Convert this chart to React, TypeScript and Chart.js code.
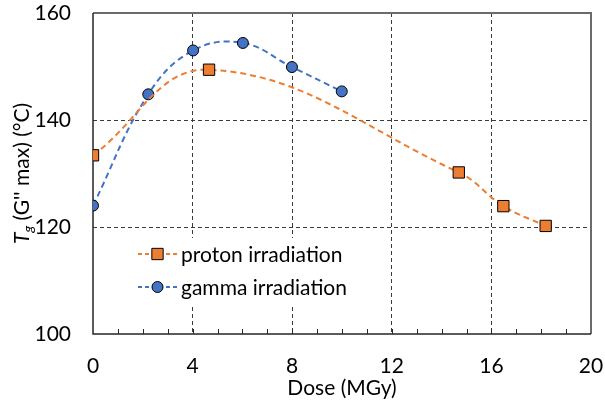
import React, { useEffect, useRef } from "react";
import { Chart, registerables } from "chart.js";

Chart.register(...registerables);

// ---- data ----
const protonDose = [0, 4.66, 14.69, 16.48, 18.18];
const protonTg = [133.4, 149.4, 130.2, 123.9, 120.2];
const gammaDose = [0, 2.22, 4.02, 6.02, 7.99, 9.99];
const gammaTg = [124.0, 144.8, 153.0, 154.4, 149.9, 145.35];
const seriesLabels = ["proton irradiation", "gamma irradiation"];
const xTitle = "Dose (MGy)";
const yTitleMain = "T";
const yTitleSub = "g";
const yTitleRest = " (G'' max) (°C)";

const ORANGE = "#ED7D31";
const BLUE = "#4472C4";
const FAMILY = "Lato, 'Noto Sans', sans-serif";
const FS = 21;

const decorPlugin = {
  id: "decor",
  beforeDatasetsDraw(chart: any) {
    const { ctx, chartArea } = chart;
    const { left, right, top, bottom } = chartArea;
    const xs = chart.scales.x;
    ctx.save();
    // frame
    ctx.setLineDash([]);
    ctx.lineWidth = 2;
    ctx.strokeStyle = "#6b6b6b";
    ctx.beginPath();
    ctx.moveTo(left, top);
    ctx.lineTo(right, top);
    ctx.lineTo(right, bottom);
    ctx.stroke();
    ctx.strokeStyle = "#262626";
    ctx.lineWidth = 1.5;
    ctx.beginPath();
    ctx.moveTo(left, top);
    ctx.lineTo(left, bottom);
    ctx.lineTo(right, bottom);
    ctx.stroke();
    // minor ticks (inside)
    ctx.lineWidth = 1;
    for (let v = 1; v < 20; v++) {
      const px = Math.round(xs.getPixelForValue(v)) + 0.5;
      ctx.beginPath();
      ctx.moveTo(px, bottom);
      ctx.lineTo(px, bottom - 5);
      ctx.stroke();
    }
    // legend
    ctx.fillStyle = "#fff";
    ctx.fillRect(126, 238, 236, 66);
    chart.data.datasets.forEach((ds: any, i: number) => {
      const y = 254 + i * 33;
      ctx.save();
      ctx.strokeStyle = ds.borderColor;
      ctx.lineWidth = 2;
      ctx.setLineDash([4, 3]);
      ctx.beginPath();
      ctx.moveTo(138, y);
      ctx.lineTo(177, y);
      ctx.stroke();
      ctx.restore();
      ctx.fillStyle = ds.backgroundColor;
      ctx.strokeStyle = "#000";
      ctx.lineWidth = 1;
      ctx.setLineDash([]);
      ctx.beginPath();
      if (ds.pointStyle === "rect") {
        const s = ds.pointRadius * Math.SQRT1_2;
        ctx.rect(157.5 - s, y - s, 2 * s, 2 * s);
      } else {
        ctx.arc(157.5, y, ds.pointRadius, 0, Math.PI * 2);
      }
      ctx.fill();
      ctx.stroke();
      ctx.fillStyle = "#000";
      ctx.font = `${FS}px ${FAMILY}`;
      ctx.textBaseline = "middle";
      ctx.textAlign = "left";
      ctx.fillText(ds.label, 181, y + 1);
    });
    // x title
    ctx.fillStyle = "#000";
    ctx.font = `${FS}px ${FAMILY}`;
    ctx.textAlign = "center";
    ctx.textBaseline = "middle";
    ctx.fillText(xTitle, (left + right) / 2, 388);
    // y title (rotated, with italic subscript)
    ctx.save();
    ctx.translate(22, (top + bottom) / 2);
    ctx.rotate(-Math.PI / 2);
    const fMain = `italic ${FS}px ${FAMILY}`;
    const fSub = `italic ${Math.round(FS * 0.65)}px ${FAMILY}`;
    const fRest = `${FS}px ${FAMILY}`;
    ctx.font = fMain;
    const wT = ctx.measureText(yTitleMain).width;
    ctx.font = fSub;
    const wG = ctx.measureText(yTitleSub).width;
    ctx.font = fRest;
    const wR = ctx.measureText(yTitleRest).width;
    let x0 = -(wT + wG + wR) / 2;
    ctx.textAlign = "left";
    ctx.textBaseline = "alphabetic";
    const base = 7;
    ctx.font = fMain;
    ctx.fillText(yTitleMain, x0, base);
    x0 += wT;
    ctx.font = fSub;
    ctx.fillText(yTitleSub, x0, base + 4);
    x0 += wG;
    ctx.font = fRest;
    ctx.fillText(yTitleRest, x0, base);
    ctx.restore();
    ctx.restore();
  },
};

export default function App() {
  const ref = useRef<HTMLCanvasElement>(null);
  useEffect(() => {
    const canvas = ref.current!;
    const gridColor = (c: any) =>
      c.tick && (c.tick.value === c.scale.min || c.tick.value === c.scale.max)
        ? "rgba(0,0,0,0)"
        : "#3a3a3a";
    const chart = new Chart(canvas, {
      type: "scatter",
      data: {
        datasets: [
          {
            label: seriesLabels[0],
            data: protonDose.map((x, i) => ({ x, y: protonTg[i] })),
            showLine: true,
            borderColor: ORANGE,
            backgroundColor: ORANGE,
            borderWidth: 2,
            borderDash: [6, 4],
            tension: 0.4,
            pointStyle: "rect",
            pointRadius: 8,
            pointBorderColor: "#000",
            pointBorderWidth: 1,
            pointBackgroundColor: ORANGE,
          } as any,
          {
            label: seriesLabels[1],
            data: gammaDose.map((x, i) => ({ x, y: gammaTg[i] })),
            showLine: true,
            borderColor: BLUE,
            backgroundColor: BLUE,
            borderWidth: 2,
            borderDash: [6, 4],
            tension: 0.4,
            pointStyle: "circle",
            pointRadius: 5.5,
            pointBorderColor: "#000",
            pointBorderWidth: 1,
            pointBackgroundColor: BLUE,
          } as any,
        ],
      },
      options: {
        responsive: false,
        animation: false,
        layout: { padding: { left: 0, top: 13, right: 14, bottom: 0 } },
        plugins: { legend: { display: false }, tooltip: { enabled: false } },
        scales: {
          x: {
            type: "linear",
            min: 0,
            max: 20,
            ticks: {
              stepSize: 4,
              font: { family: FAMILY, size: FS },
              color: "#000",
              padding: 20,
              maxRotation: 0,
            },
            grid: { color: gridColor, lineWidth: 1, drawTicks: false },
            border: { display: false, dash: [4, 3] },
            afterFit: (s: any) => {
              s.height = 403 - 334;
              s.paddingLeft = 0;
              s.paddingRight = 0;
            },
          },
          y: {
            type: "linear",
            min: 100,
            max: 160,
            ticks: {
              stepSize: 20,
              font: { family: FAMILY, size: FS },
              color: "#000",
              padding: 22,
            },
            grid: { color: gridColor, lineWidth: 1, drawTicks: false },
            border: { display: false, dash: [4, 3] },
            afterFit: (s: any) => {
              s.width = 93;
              s.paddingTop = 0;
              s.paddingBottom = 0;
            },
          },
        },
      } as any,
      plugins: [decorPlugin],
    });
    return () => chart.destroy();
  }, []);
  return (
    <div style={{ position: "fixed", left: 0, top: 0, width: 605, height: 403, background: "#fff" }}>
      <canvas ref={ref} width={605} height={403} style={{ display: "block", width: 605, height: 403 }} />
    </div>
  );
}
